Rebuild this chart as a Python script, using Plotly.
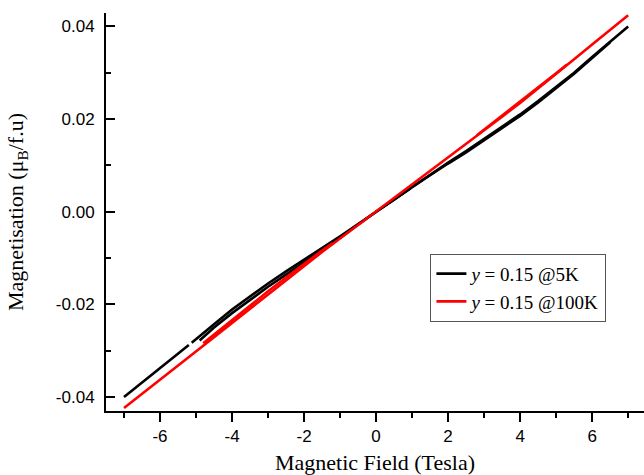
import plotly.graph_objects as go

# ---- M(H) sweeps, y = 0.15 sample; field in tesla, moment in mu_B per formula unit ----
# 5 K: low-field end of the loop, main sweep, and return sweeps
field_5k_a = [-7.0, -6.5, -6.0, -5.5, -5.2]
mag_5k_a = [-0.0400, -0.0369, -0.0338, -0.0306, -0.0288]

field_5k_b = [-5.12, -5.0, -4.5, -4.0, -3.5, -3.0, -2.5, -2.0, -1.5, -1.0, -0.5, 0.0,
              0.5, 1.0, 1.5, 2.0, 2.5, 3.0, 3.5, 4.0, 4.5, 5.0, 5.5, 6.0, 6.5, 7.0]
mag_5k_b = [-0.0283, -0.0275, -0.0243, -0.0211, -0.0182, -0.0155, -0.0129, -0.0104, -0.0078, -0.0053, -0.0027, 0.0000,
            0.0027, 0.0054, 0.0080, 0.0106, 0.0131, 0.0157, 0.0183, 0.0210, 0.0239, 0.0269, 0.0300, 0.0334, 0.0367, 0.0400]

field_5k_c = [-4.9, -4.5, -4.0, -3.5, -3.0, -2.5, -2.0, -1.5, -1.0, -0.5, 0.0, 0.5, 0.95]
mag_5k_c = [-0.0278, -0.0250, -0.0219, -0.0190, -0.0162, -0.0136, -0.0110, -0.0083, -0.0056, -0.0028, 0.0000, 0.0026, 0.0050]

field_5k_d = [1.05, 1.5, 2.0, 2.5, 3.0, 3.5, 4.0, 4.5, 5.0, 5.5, 6.0, 6.5]
mag_5k_d = [0.0056, 0.0079, 0.0104, 0.0128, 0.0154, 0.0180, 0.0207, 0.0236, 0.0266, 0.0298, 0.0332, 0.0366]

# 100 K
field_100k_a = [-7.0, -6.5, -6.0, -5.5, -5.0, -4.5, -4.0, -3.5, -3.0, -2.5, -2.0, -1.5, -1.0, -0.5, 0.0,
                0.5, 1.0, 1.5, 2.0, 2.5, 3.0, 3.5, 4.0, 4.5, 5.0, 5.5, 6.0, 6.5, 7.0]
mag_100k_a = [-0.0424, -0.0393, -0.0362, -0.0332, -0.0302, -0.0271, -0.0240, -0.0209, -0.0178, -0.0147, -0.0117,
              -0.0087, -0.0058, -0.0029, 0.0000,
              0.0029, 0.0058, 0.0087, 0.0116, 0.0146, 0.0176, 0.0205, 0.0235, 0.0266, 0.0297, 0.0329, 0.0361, 0.0393, 0.0424]

field_100k_b = [-4.8, -4.5, -4.0, -3.5, -3.0, -2.5, -2.0, -1.5, -1.2]
mag_100k_b = [-0.0284, -0.0265, -0.0234, -0.0203, -0.0172, -0.0142, -0.0112, -0.0084, -0.0068]

field_100k_c = [2.8, 3.0, 3.5, 4.0, 4.5, 5.0, 5.3]
mag_100k_c = [0.0165, 0.0177, 0.0207, 0.0237, 0.0268, 0.0299, 0.0318]

series_names = ["<i>y</i> = 0.15 @5K", "<i>y</i> = 0.15 @100K"]
series_colors = ["#000000", "#ff0000"]

x_tick_vals = [-6, -4, -2, 0, 2, 4, 6]
x_tick_text = ["-6", "-4", "-2", "0", "2", "4", "6"]
y_tick_vals = [-0.04, -0.02, 0.0, 0.02, 0.04]
y_tick_text = ["-0.04", "-0.02", "0.00", "0.02", "0.04"]


def join_sweeps(*pairs):
    """Concatenate sweep segments, leaving a break between them."""
    xs, ys = [], []
    for i, (fx, fy) in enumerate(pairs):
        if i:
            xs.append(None)
            ys.append(None)
        xs.extend(fx)
        ys.extend(fy)
    return xs, ys


x5, y5 = join_sweeps((field_5k_a, mag_5k_a), (field_5k_b, mag_5k_b),
                     (field_5k_c, mag_5k_c), (field_5k_d, mag_5k_d))
x100, y100 = join_sweeps((field_100k_a, mag_100k_a), (field_100k_b, mag_100k_b),
                         (field_100k_c, mag_100k_c))

fig = go.Figure()
fig.add_trace(go.Scatter(x=x5, y=y5, mode="lines", name=series_names[0],
                         line=dict(color=series_colors[0], width=2.6), connectgaps=False))
fig.add_trace(go.Scatter(x=x100, y=y100, mode="lines", name=series_names[1],
                         line=dict(color=series_colors[1], width=2.6), connectgaps=False))

tick_font = dict(family="Liberation Sans, Arial, sans-serif", size=17, color="#000000")
title_font = dict(family="Liberation Serif, Times New Roman, serif", size=22, color="#000000")
x_range = [-7.5, 7.44]
y_range = [-0.04303, 0.04290]

fig.update_layout(
    width=644, height=475,
    margin=dict(l=106, r=0, t=13, b=64),
    paper_bgcolor="white", plot_bgcolor="white",
    showlegend=True,
    legend=dict(
        x=0.603, y=0.395, xanchor="left", yanchor="top",
        bgcolor="white", bordercolor="#555555", borderwidth=1,
        font=dict(family="Liberation Serif, Times New Roman, serif", size=19, color="#000000"),
        tracegroupgap=0, itemwidth=30,
    ),
    xaxis=dict(
        range=x_range, showgrid=False, zeroline=False,
        showline=True, linecolor="#000000", linewidth=2,
        ticks="outside", ticklen=9, tickwidth=2, tickcolor="#000000",
        tickmode="array", tickvals=x_tick_vals, ticktext=x_tick_text,
        minor=dict(ticks="outside", ticklen=5, tickwidth=2, tickcolor="#000000",
                   tickmode="linear", tick0=0, dtick=1, showgrid=False),
        tickfont=tick_font,
        title=dict(text="Magnetic Field (Tesla)", font=title_font, standoff=12),
    ),
    xaxis2=dict(
        range=x_range, overlaying="x", side="top", matches="x",
        showgrid=False, zeroline=False, showticklabels=False,
        showline=True, linecolor="#000000", linewidth=2,
        ticks="inside", ticklen=9, tickwidth=2, tickcolor="#000000",
        tickmode="array", tickvals=x_tick_vals,
        minor=dict(ticks="inside", ticklen=5, tickwidth=2, tickcolor="#000000",
                   tickmode="linear", tick0=0, dtick=1, showgrid=False),
    ),
    yaxis=dict(
        range=y_range, showgrid=False, zeroline=False,
        showline=True, linecolor="#000000", linewidth=2,
        ticks="inside", ticklen=9, tickwidth=2, tickcolor="#000000",
        tickmode="array", tickvals=y_tick_vals, ticktext=y_tick_text,
        minor=dict(ticks="inside", ticklen=5, tickwidth=2, tickcolor="#000000",
                   tickmode="linear", tick0=0, dtick=0.01, showgrid=False),
        tickfont=tick_font, ticklabelstandoff=6,
        title=dict(text="Magnetisation (\u03bc<sub>B</sub>/f.u)", font=title_font, standoff=26),
    ),
)

fig.write_html("out.html")
